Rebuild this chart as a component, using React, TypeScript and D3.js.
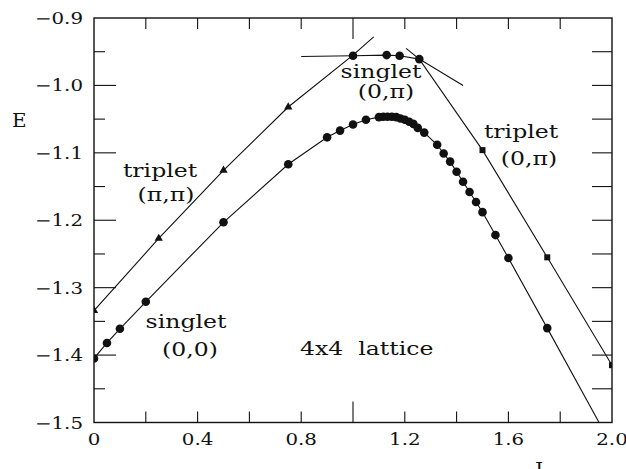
import React from "react";
import * as d3 from "d3";

// Singlet (0,0) ground state: J2 values and energies
const singlet00J2 = [0, 0.05, 0.1, 0.2, 0.5, 0.75, 0.9, 0.95, 1.0, 1.05, 1.1, 1.117, 1.133, 1.15, 1.167, 1.183, 1.2, 1.217, 1.233, 1.25, 1.275, 1.325, 1.35, 1.375, 1.4, 1.425, 1.45, 1.475, 1.5, 1.55, 1.6, 1.75];
const singlet00E = [-1.405, -1.382, -1.361, -1.321, -1.203, -1.117, -1.077, -1.067, -1.058, -1.051, -1.047, -1.0465, -1.0465, -1.0465, -1.047, -1.049, -1.051, -1.054, -1.057, -1.063, -1.07, -1.088, -1.101, -1.113, -1.128, -1.143, -1.158, -1.173, -1.188, -1.222, -1.256, -1.36];
// extrapolated tail of the singlet (0,0) line
const singlet00TailJ2 = [1.75, 1.95];
const singlet00TailE = [-1.36, -1.5];

// Triplet (pi,pi)
const tripletPiPiJ2 = [0, 0.25, 0.5, 0.75];
const tripletPiPiE = [-1.334, -1.227, -1.126, -1.032];
const tripletPiPiLineJ2 = [0, 0.25, 0.5, 0.75, 1.0, 1.08];
const tripletPiPiLineE = [-1.334, -1.227, -1.126, -1.032, -0.955, -0.928];

// Singlet (0,pi)
const singlet0PiJ2 = [1.0, 1.13, 1.18, 1.256];
const singlet0PiE = [-0.956, -0.955, -0.956, -0.961];
const singlet0PiLineJ2 = [0.8, 1.0, 1.13, 1.18, 1.256, 1.425];
const singlet0PiLineE = [-0.957, -0.956, -0.955, -0.956, -0.961, -1.0];

// Triplet (0,pi)
const triplet0PiJ2 = [1.5, 1.75, 2.0];
const triplet0PiE = [-1.096, -1.255, -1.415];
const triplet0PiLineJ2 = [1.205, 1.256, 1.5, 1.75, 2.0];
const triplet0PiLineE = [-0.945, -0.961, -1.096, -1.255, -1.415];

// Axis ticks
const xTickLabels = [0, 0.4, 0.8, 1.2, 1.6, 2.0];
const xTicks = [0.2, 0.4, 0.6, 0.8, 1.0, 1.2, 1.4, 1.6, 1.8];
const yTickLabels = [-0.9, -1.0, -1.1, -1.2, -1.3, -1.4, -1.5];
const yTicks = [-0.95, -1.0, -1.05, -1.1, -1.15, -1.2, -1.25, -1.3, -1.35, -1.4, -1.45];

const W = 626;
const H = 469;
const L = 94, R = 612, T = 18, B = 422.5;
const INK = "#111";
const FONT = "'DejaVu Serif', serif";
const SX = 1.24;

const x = d3.scaleLinear().domain([0, 2]).range([L, R]);
const y = d3.scaleLinear().domain([-1.5, -0.9]).range([B, T]);

const zip = (a: number[], b: number[]) => a.map((v, i) => [v, b[i]] as [number, number]);
const line = d3.line<[number, number]>().x((d) => x(d[0])).y((d) => y(d[1]));

function Label({ px, py, text, size = 19, anchor = "middle", sx = SX }: { px: number; py: number; text: React.ReactNode; size?: number; anchor?: string; sx?: number }) {
  return (
    <text
      transform={`translate(${px},${py}) scale(${sx},1)`}
      textAnchor={anchor as any}
      fontFamily={FONT}
      fontSize={size}
      fill={INK}
      style={{ whiteSpace: "pre" }}
    >
      {text}
    </text>
  );
}

const fmt = (v: number) => (v === 0 ? "0" : d3.format(".1f")(v).replace("-", "\u2212"));

export default function App() {
  const tri = d3.symbol().type(d3.symbolTriangle).size(30)() as string;
  return (
    <svg width={W} height={H} style={{ position: "absolute", left: 0, top: 0, background: "#fff" }}>
      <defs>
        <clipPath id="plot">
          <rect x={L} y={T} width={R - L} height={B - T} />
        </clipPath>
      </defs>

      {/* frame */}
      <rect x={L} y={T} width={R - L} height={B - T} fill="none" stroke={INK} strokeWidth={1.4} />

      {/* bottom and top ticks */}
      {xTicks.map((t) => {
        const len = Math.abs(t - 1.0) < 1e-9 ? 21 : 11;
        return (
          <g key={"xt" + t} stroke={INK} strokeWidth={1.1}>
            <line x1={x(t)} x2={x(t)} y1={B} y2={B - len} />
            <line x1={x(t)} x2={x(t)} y1={T} y2={T + len} />
          </g>
        );
      })}
      {/* left and right ticks */}
      {yTicks.map((t) => {
        const major = Math.abs(Math.round(t * 10) - t * 10) < 1e-6;
        return (
          <g key={"yt" + t} stroke={INK} strokeWidth={1.1}>
            <line x1={L} x2={L + (major ? 22 : 11)} y1={y(t)} y2={y(t)} />
            <line x1={R} x2={R - 20} y1={y(t)} y2={y(t)} />
          </g>
        );
      })}

      {/* tick labels */}
      {xTickLabels.map((t) => (
        <Label key={"xl" + t} px={x(t)} py={445} text={fmt(t)} size={16} />
      ))}
      {yTickLabels.map((t) => (
        <Label key={"yl" + t} px={83} py={y(t) + 6} text={fmt(t)} size={16} anchor="end" />
      ))}

      {/* axis titles */}
      <Label px={12} py={127} text="E" size={19} anchor="start" sx={1.05} />
      <Label px={535} py={476} text={<>J<tspan fontSize={13} dy={4}>2</tspan></>} size={19} anchor="start" sx={1.05} />

      <g clipPath="url(#plot)" fill="none" stroke={INK} strokeWidth={1.1}>
        <path d={line(zip(singlet00J2, singlet00E)) as string} />
        <path d={line(zip(singlet00TailJ2, singlet00TailE)) as string} />
        <path d={line(zip(tripletPiPiLineJ2, tripletPiPiLineE)) as string} />
        <path d={line(zip(singlet0PiLineJ2, singlet0PiLineE)) as string} />
        <path d={line(zip(triplet0PiLineJ2, triplet0PiLineE)) as string} />
      </g>

      <g clipPath="url(#plot)" fill={INK}>
        {zip(singlet00J2, singlet00E).map(([a, b], i) => (
          <circle key={"s00" + i} cx={x(a)} cy={y(b)} r={4.3} />
        ))}
        {zip(singlet0PiJ2, singlet0PiE).map(([a, b], i) => (
          <circle key={"s0p" + i} cx={x(a)} cy={y(b)} r={4.3} />
        ))}
        {zip(tripletPiPiJ2, tripletPiPiE).map(([a, b], i) => (
          <path key={"tpp" + i} d={tri} transform={`translate(${x(a)},${y(b)})`} />
        ))}
        {zip(triplet0PiJ2, triplet0PiE).map(([a, b], i) => (
          <rect key={"t0p" + i} x={x(a) - 3} y={y(b) - 3} width={6} height={6} />
        ))}
      </g>

      {/* state labels */}
      <Label px={160} py={177} text="triplet" />
      <Label px={166} py={201} text="(π,π)" />
      <Label px={381} py={78} text="singlet" />
      <Label px={386} py={98} text="(0,π)" />
      <Label px={521} py={138} text="triplet" />
      <Label px={529} py={165} text="(0,π)" />
      <Label px={186} py={328} text="singlet" />
      <Label px={190} py={356} text="(0,0)" />
      <Label px={300} py={355} text="4x4  lattice" anchor="start" />
    </svg>
  );
}
